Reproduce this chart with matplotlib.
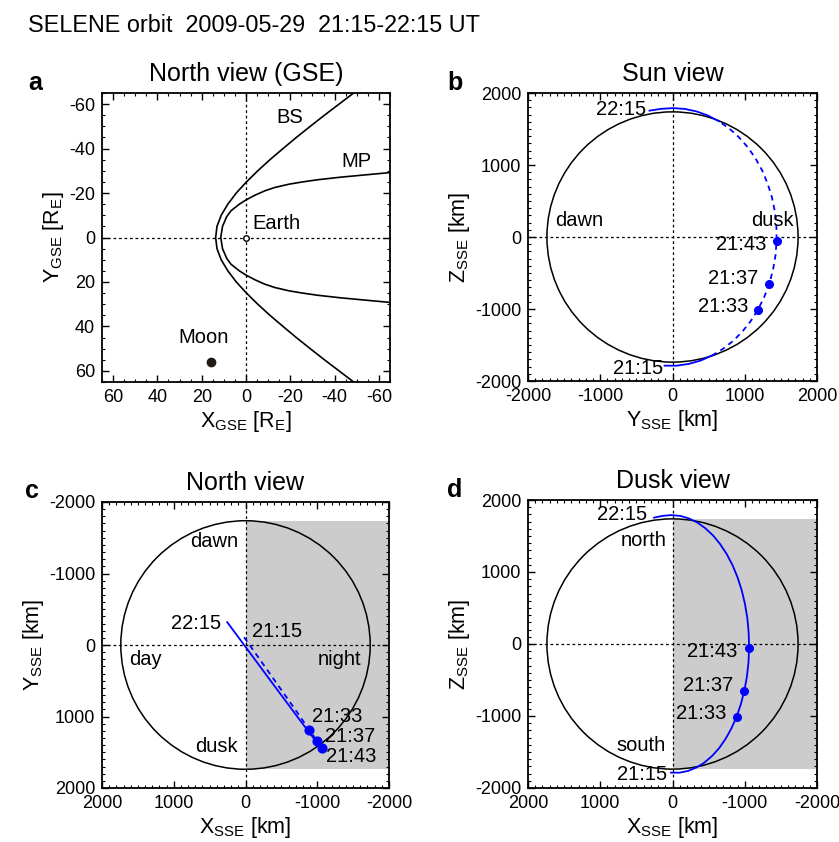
import matplotlib
matplotlib.use("Agg")
import matplotlib.pyplot as plt
from matplotlib.patches import Circle
from matplotlib.ticker import MultipleLocator
import numpy as np

plt.rcParams['font.family'] = ['Liberation Sans', 'DejaVu Sans']
plt.rcParams['mathtext.fontset'] = 'custom'
plt.rcParams['mathtext.rm'] = 'Liberation Sans'
plt.rcParams['mathtext.it'] = 'Liberation Sans'
plt.rcParams['axes.unicode_minus'] = False

# --- panel a: bow shock / magnetopause in GSE (R_E)
bs_y = [-70, -65, -60, -55, -50, -45, -40, -35, -30, -25, -20, -15, -10, -5, 0,
        5, 10, 15, 20, 25, 30, 35, 40, 45, 50, 55, 60, 65, 70]
bs_x = [-55.4, -48.6, -42.0, -35.4, -29.0, -22.7, -16.7, -10.8, -5.3, -0.2, 4.4, 8.2, 11.2, 13.1, 13.7,
        13.1, 11.2, 8.2, 4.4, -0.2, -5.3, -10.8, -16.7, -22.7, -29.0, -35.4, -42.0, -48.6, -55.4]
mp_y = [-29.8, -29.2, -28.6, -28.0, -27.1, -26.0, -25.0, -24.0, -22.5, -21.0, -19.0, -16.9, -15.0,
        -12.0, -9.4, -5.0, 0, 5.0, 9.4, 12.0, 15.0, 16.9, 19.0, 21.0, 22.5, 24.0, 25.0, 26.0,
        27.1, 28.0, 28.6, 29.2, 29.8]
mp_x = [-72, -65, -58.5, -52, -42.4, -32.5, -25.5, -19.5, -13, -8.5, -4, 0, 3,
        6.8, 8.7, 10.6, 11.4, 10.6, 8.7, 6.8, 3, 0, -4, -8.5, -13, -19.5, -25.5, -32.5,
        -42.4, -52, -58.5, -65, -72]
moon_gse = (15.7, 56.0)
earth_gse = (0.0, 0.0)

# --- SELENE orbit in SSE (km), minutes after 21:15 UT
orb_t = [0, 2, 4, 6, 8, 10, 12, 14, 16, 18, 20, 22, 24, 26, 28, 30,
         32, 34, 36, 38, 40, 42, 44, 46, 48, 50, 52, 54, 56, 58, 60]
orb_x = [20, -98, -215, -330, -440, -546, -645, -735, -816, -888, -947, -995, -1030, -1052, -1060, -1054,
         -1036, -1003, -958, -900, -831, -750, -660, -562, -455, -343, -227, -107, 14, 135, 255]
orb_y = [-109, 58, 224, 387, 544, 694, 835, 964, 1081, 1183, 1270, 1340, 1392, 1426, 1441, 1438,
         1416, 1375, 1315, 1240, 1147, 1040, 918, 786, 642, 491, 333, 171, 7, -157, -319]
orb_z = [-1787, -1787, -1763, -1717, -1648, -1557, -1447, -1317, -1171, -1008, -833, -647, -453, -252, -49, 156,
         358, 556, 746, 927, 1095, 1249, 1387, 1507, 1607, 1687, 1744, 1779, 1790, 1780, 1755]
mark_t = [18, 22, 28]
mark_lbl = ['21:33', '21:37', '21:43']
moon_r = 1738
# hidden (dashed) stretches, minutes
hidden_sun = (8, 48)
hidden_north = (0, 24)

t = np.array(orb_t)
ox, oy, oz = np.array(orb_x), np.array(orb_y), np.array(orb_z)
mk = [orb_t.index(m) for m in mark_t]

BLUE = '#0000ff'
W, H = 839, 842
fig = plt.figure(figsize=(W / 100, H / 100), dpi=100)


def frame(l, t_, r, b):
    return fig.add_axes([l / W, 1 - b / H, (r - l) / W, (b - t_) / H])


def style(ax, major, minor):
    ax.xaxis.set_major_locator(MultipleLocator(major))
    ax.yaxis.set_major_locator(MultipleLocator(major))
    ax.xaxis.set_minor_locator(MultipleLocator(minor))
    ax.yaxis.set_minor_locator(MultipleLocator(minor))
    ax.tick_params(which='both', direction='in', top=True, right=True, labelsize=13, pad=5)
    ax.tick_params(which='major', length=5, width=1)
    ax.tick_params(which='minor', length=2.5, width=0.8)
    for s in ax.spines.values():
        s.set_linewidth(1.3)
    ax.axhline(0, color='k', ls=(0, (2.2, 2.2)), lw=0.9, zorder=1)
    ax.axvline(0, color='k', ls=(0, (2.2, 2.2)), lw=0.9, zorder=1)


def title(ax, s):
    ax.text(0.5, 1 + 19 / 288, s, transform=ax.transAxes, ha='center', va='center', fontsize=18)


def seg(ax, a, b, mask, ls):
    ax.plot(a[mask], b[mask], color=BLUE, lw=1.3, ls=ls, zorder=3)


LBL = 15.5
ANN = 14.5

# ---------- a
ax = frame(102, 93, 390, 382)
style(ax, 20, 5)
ax.set_xlim(65, -65)
ax.set_ylim(65, -65)
ax.plot(bs_x, bs_y, color='k', lw=1.2)
ax.plot(mp_x, mp_y, color='k', lw=1.2)
ax.plot(*earth_gse, 'o', ms=4, mfc='white', mec='k', mew=1, zorder=4)
ax.plot(*moon_gse, 'o', ms=6, color='#231815', zorder=4)
ax.text(-19.9, -53.8, 'BS', ha='center', va='center', fontsize=ANN)
ax.text(-49.7, -34.1, 'MP', ha='center', va='center', fontsize=ANN)
ax.text(-2.7, -6.4, 'Earth', ha='left', va='center', fontsize=ANN)
ax.text(19, 45, 'Moon', ha='center', va='center', fontsize=ANN)
ax.set_xlabel(r'X$_{\mathrm{GSE}}$ [R$_{\mathrm{E}}$]', fontsize=LBL, labelpad=2)
ax.set_ylabel(r'Y$_{\mathrm{GSE}}$ [R$_{\mathrm{E}}$]', fontsize=LBL, labelpad=2)
title(ax, 'North view (GSE)')

# ---------- b  Sun view (Y, Z)
ax = frame(528, 93, 817, 381)
style(ax, 1000, 100)
ax.set_xlim(-2000, 2000)
ax.set_ylim(-2000, 2000)
ax.add_patch(Circle((0, 0), moon_r, fill=False, ec='k', lw=1.1, zorder=2))
hid = (t >= hidden_sun[0]) & (t <= hidden_sun[1])
seg(ax, oy, oz, t <= hidden_sun[0], '-')
seg(ax, oy, oz, t >= hidden_sun[1], '-')
seg(ax, oy, oz, hid, (0, (3, 2.5)))
ax.plot(oy[mk], oz[mk], 'o', color=BLUE, ms=5.5, zorder=4)
ax.text(-370, 1775, '22:15', ha='right', va='center', fontsize=ANN)
ax.text(-136, -1824, '21:15', ha='right', va='center', fontsize=ANN)
ax.text(-1626, 226, 'dawn', ha='left', va='center', fontsize=ANN)
ax.text(1681, 226, 'dusk', ha='right', va='center', fontsize=ANN)
for (yy, zz), s in zip([(1304, -111), (1188, -583), (1049, -967)], mark_lbl[::-1]):
    ax.text(yy, zz, s, ha='right', va='center', fontsize=ANN)
ax.set_xlabel(r'Y$_{\mathrm{SSE}}$ [km]', fontsize=LBL, labelpad=2)
ax.set_ylabel(r'Z$_{\mathrm{SSE}}$ [km]', fontsize=LBL, labelpad=2)
title(ax, 'Sun view')

# ---------- c  North view (X, Y)
ax = frame(102, 502, 389, 788)
style(ax, 1000, 100)
ax.set_xlim(2000, -2000)
ax.set_ylim(2000, -2000)
ax.fill_between([0, -2000], -moon_r, moon_r, color='#cccccc', lw=0, zorder=0)
ax.add_patch(Circle((0, 0), moon_r, fill=False, ec='k', lw=1.1, zorder=2))
seg(ax, ox, oy, t <= hidden_north[1], (0, (3, 2.5)))
seg(ax, ox, oy, t >= hidden_north[1], '-')
ax.plot(ox[mk], oy[mk], 'o', color=BLUE, ms=6.3, zorder=4)
ax.text(103, -1446, 'dawn', ha='right', va='center', fontsize=ANN)
ax.text(103, 1414, 'dusk', ha='right', va='center', fontsize=ANN)
ax.text(1623, 200, 'day', ha='left', va='center', fontsize=ANN)
ax.text(-1617, 200, 'night', ha='right', va='center', fontsize=ANN)
ax.text(335, -294, '22:15', ha='right', va='center', fontsize=ANN)
ax.text(-92, -186, '21:15', ha='left', va='center', fontsize=ANN)
for (xx, yy), s in zip([(-920, 1003), (-1105, 1274), (-1119, 1563)], mark_lbl):
    ax.text(xx, yy, s, ha='left', va='center', fontsize=ANN)
ax.set_xlabel(r'X$_{\mathrm{SSE}}$ [km]', fontsize=LBL, labelpad=2)
ax.set_ylabel(r'Y$_{\mathrm{SSE}}$ [km]', fontsize=LBL, labelpad=2)
title(ax, 'North view')

# ---------- d  Dusk view (X, Z)
ax = frame(528, 500, 817, 788)
style(ax, 1000, 100)
ax.set_xlim(2000, -2000)
ax.set_ylim(-2000, 2000)
ax.fill_between([0, -2000], -moon_r, moon_r, color='#cccccc', lw=0, zorder=0)
ax.add_patch(Circle((0, 0), moon_r, fill=False, ec='k', lw=1.1, zorder=2))
seg(ax, ox, oz, t >= 0, '-')
ax.plot(ox[mk], oz[mk], 'o', color=BLUE, ms=5.5, zorder=4)
ax.text(358, 1792, '22:15', ha='right', va='center', fontsize=ANN)
ax.text(81, 1431, 'north', ha='right', va='center', fontsize=ANN)
ax.text(90, -1412, 'south', ha='right', va='center', fontsize=ANN)
ax.text(81, -1806, '21:15', ha='right', va='center', fontsize=ANN)
for (xx, zz), s in zip([(-900, -107), (-845, -583), (-743, -963)], mark_lbl[::-1]):
    ax.text(xx, zz, s, ha='right', va='center', fontsize=ANN)
ax.set_xlabel(r'X$_{\mathrm{SSE}}$ [km]', fontsize=LBL, labelpad=2)
ax.set_ylabel(r'Z$_{\mathrm{SSE}}$ [km]', fontsize=LBL, labelpad=2)
title(ax, 'Dusk view')

# letters and header
for (px, py), s in zip([(35, 83), (455, 83), (32, 491), (455, 490)], 'abcd'):
    fig.text(px / W, 1 - py / H, s, ha='center', va='center', fontsize=18, fontweight='bold')
fig.text(28 / W, 1 - 26 / H, 'SELENE orbit  2009-05-29  21:15-22:15 UT', ha='left', va='center', fontsize=16.8)

fig.savefig('out.png', dpi=100)
